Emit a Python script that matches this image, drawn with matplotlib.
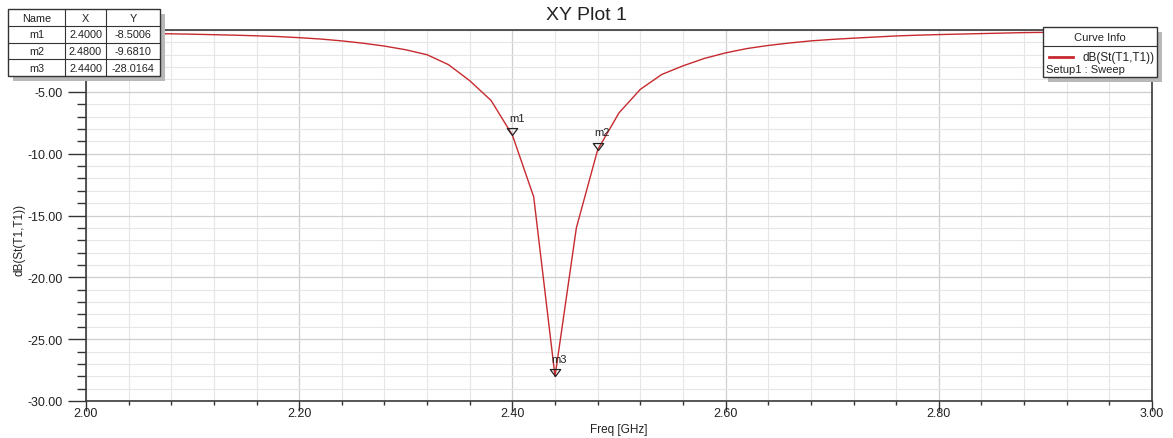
import numpy as np
import matplotlib.pyplot as plt
from matplotlib.patches import Rectangle
from matplotlib.path import Path
from matplotlib.ticker import MultipleLocator, FormatStrFormatter, FuncFormatter

plt.rcParams['font.family'] = ['Liberation Sans', 'DejaVu Sans']

# sweep data (GHz, dB)
freq = [2.00, 2.02, 2.04, 2.06, 2.08, 2.10, 2.12, 2.14, 2.16, 2.18,
        2.20, 2.22, 2.24, 2.26, 2.28, 2.30, 2.32, 2.34, 2.36, 2.38,
        2.40, 2.42, 2.44, 2.46, 2.48, 2.50, 2.52, 2.54, 2.56, 2.58,
        2.60, 2.62, 2.64, 2.66, 2.68, 2.70, 2.72, 2.74, 2.76, 2.78,
        2.80, 2.82, 2.84, 2.86, 2.88, 2.90, 2.92, 2.94, 2.96, 2.98, 3.00]
s11 = [-0.22, -0.24, -0.26, -0.28, -0.31, -0.34, -0.38, -0.42, -0.47, -0.53,
       -0.62, -0.73, -0.88, -1.07, -1.30, -1.60, -2.00, -2.80, -4.10, -5.70,
       -8.5006, -13.5, -28.0164, -16.0, -9.6810, -6.7, -4.8, -3.6, -2.9, -2.3,
       -1.85, -1.50, -1.25, -1.05, -0.88, -0.76, -0.66, -0.57, -0.48, -0.42,
       -0.37, -0.33, -0.29, -0.25, -0.21, -0.19, -0.17, -0.15, -0.13, -0.12, -0.11]

marker_names = ['m1', 'm2', 'm3']
marker_x = [2.4000, 2.4800, 2.4400]
marker_y = [-8.5006, -9.6810, -28.0164]

W, H = 1173, 439
fig = plt.figure(figsize=(W / 100, H / 100), dpi=100)


def fx(x):
    return x / W


def fy(y):
    return 1 - y / H


ax = fig.add_axes([fx(86), fy(402), fx(1152) - fx(86), fy(31) - fy(402)])

line_color = '#c62a2e'
ax.plot(freq, s11, color=line_color, lw=1.0, zorder=3)

# marker triangles with the tip on the point
tri = Path([(0, 0), (-0.6, 0.8), (0.6, 0.8), (0, 0)],
           [Path.MOVETO, Path.LINETO, Path.LINETO, Path.CLOSEPOLY])
ax.plot(marker_x, marker_y, linestyle='none', marker=tri, markersize=10,
        markerfacecolor='none', markeredgecolor='#222222', markeredgewidth=0.9,
        zorder=4)
for name, mx, my in zip(marker_names, marker_x, marker_y):
    ax.annotate(name, (mx, my), xytext=(3, 9), textcoords='offset points',
                ha='center', va='bottom', fontsize=8, color='#222222', zorder=5)

ax.set_xlim(2.0, 3.0)
ax.set_ylim(-30, 0)
ax.xaxis.set_major_locator(MultipleLocator(0.2))
ax.xaxis.set_minor_locator(MultipleLocator(0.04))
ax.yaxis.set_major_locator(MultipleLocator(5))
ax.yaxis.set_minor_locator(MultipleLocator(1))
ax.xaxis.set_major_formatter(FormatStrFormatter('%.2f'))
# the 0.00 label sits under the marker table, so leave it out
ax.yaxis.set_major_formatter(FuncFormatter(lambda v, p: '' if v > -1 else '%.2f' % v))

ax.grid(which='major', color='#cfcfcf', lw=0.9)
ax.grid(which='minor', color='#e6e6e6', lw=0.8)
ax.set_axisbelow(True)

for sp in ax.spines.values():
    sp.set_color('#3a3a3a')
    sp.set_linewidth(1.2)

ax.tick_params(axis='y', which='major', length=13, width=1, color='#333333',
               labelsize=9, pad=4, labelcolor='#222222')
ax.tick_params(axis='y', which='minor', length=6.5, width=1, color='#333333')
ax.tick_params(axis='x', which='major', length=7, width=1, color='#333333',
               labelsize=9, pad=-3, labelcolor='#222222')
ax.tick_params(axis='x', which='minor', length=3, width=1, color='#333333')

fig.text(0.5, fy(15), 'XY Plot 1', ha='center', va='center', fontsize=14,
         color='#222222')
fig.text(fx(619), fy(430), 'Freq [GHz]', ha='center', va='center', fontsize=8.5,
         color='#222222')
fig.text(fx(20), fy(240), 'dB(St(T1,T1))', ha='center', va='center',
         rotation=90, fontsize=8.5, color='#222222')

# marker table, upper left
col_edges = [8, 65, 106, 160]
row_edges = [10, 27, 43.5, 60, 77]
header = ['Name', 'X', 'Y']
rows = [[n, '%.4f' % x, '%.4f' % y] for n, x, y in zip(marker_names, marker_x, marker_y)]


def box(x0, y0, x1, y1):
    fig.patches.append(Rectangle((fx(x0 + 5), fy(y1 + 5)), fx(x1 - x0), fy(y0) - fy(y1),
                                 transform=fig.transFigure, facecolor='#b8b8b8',
                                 edgecolor='none', zorder=1))
    fig.patches.append(Rectangle((fx(x0), fy(y1)), fx(x1 - x0), fy(y0) - fy(y1),
                                 transform=fig.transFigure, facecolor='white',
                                 edgecolor='#333333', lw=1.0, zorder=2))


box(col_edges[0], row_edges[0], col_edges[-1], row_edges[-1])
for xe in col_edges[1:-1]:
    fig.add_artist(plt.Line2D([fx(xe), fx(xe)], [fy(row_edges[0]), fy(row_edges[-1])],
                              color='#333333', lw=0.8, zorder=3))
for ye in row_edges[1:-1]:
    fig.add_artist(plt.Line2D([fx(col_edges[0]), fx(col_edges[-1])], [fy(ye), fy(ye)],
                              color='#333333', lw=0.8, zorder=3))
for r, cells in enumerate([header] + rows):
    yc = (row_edges[r] + row_edges[r + 1]) / 2
    for c, txt in enumerate(cells):
        xc = (col_edges[c] + col_edges[c + 1]) / 2
        fig.text(fx(xc), fy(yc), txt, ha='center', va='center', fontsize=7.8,
                 color='#222222', zorder=4)

# curve info box, upper right
box(1043, 28, 1157, 78)
fig.add_artist(plt.Line2D([fx(1043), fx(1157)], [fy(47), fy(47)],
                          color='#333333', lw=0.8, zorder=3))
fig.text(fx(1100), fy(38), 'Curve Info', ha='center', va='center', fontsize=8,
         color='#222222', zorder=4)
fig.add_artist(plt.Line2D([fx(1049), fx(1073)], [fy(58), fy(58)],
                          color=line_color, lw=2, zorder=4))
fig.text(fx(1155), fy(58), 'dB(St(T1,T1))', ha='right', va='center', fontsize=8.5,
         color='#222222', zorder=4)
fig.text(fx(1046), fy(70), 'Setup1 : Sweep', ha='left', va='center', fontsize=8,
         color='#222222', zorder=4)

fig.savefig('out.png', dpi=100)
